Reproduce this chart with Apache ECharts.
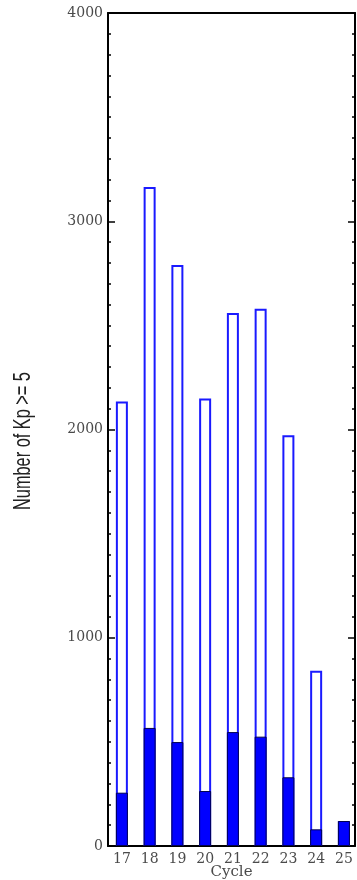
<!DOCTYPE html>
<html>
<head>
<meta charset="utf-8">
<script src="https://cdn.jsdelivr.net/npm/echarts@6/dist/echarts.min.js"></script>
<style>
html,body{margin:0;padding:0;background:#fff;}
#chart{width:357px;height:880px;}
</style>
</head>
<body>
<div id="chart"></div>
<script>
const cycles = [17, 18, 19, 20, 21, 22, 23, 24, 25];
const totalCounts = [2135, 3165, 2790, 2149, 2560, 2580, 1972, 841, 120];
const strongCounts = [256, 567, 499, 264, 547, 525, 330, 80, 120];
const yTicks = [0, 1000, 2000, 3000, 4000];
const yTitle = 'Number of Kp >= 5';
const xTitle = 'Cycle';

const chart = echarts.init(document.getElementById('chart'), null, {renderer: 'canvas'});
const labelFont = {color: '#4a4a4a', fontFamily: 'DejaVu Serif', fontSize: 14};

const option = {
  animation: false,
  backgroundColor: '#ffffff',
  grid: {left: 108, right: 2, top: 13, bottom: 34, containLabel: false, outerBoundsMode: 'none'},
  xAxis: [{
    type: 'value',
    min: 16.5,
    max: 25.4,
    interval: 0.5,
    splitLine: {show: false},
    axisTick: {show: false},
    axisLine: {show: true, onZero: false, lineStyle: {color: '#000', width: 2}},
    axisLabel: Object.assign({
      margin: 6,
      showMaxLabel: false,
      showMinLabel: false,
      formatter: v => cycles.includes(v) ? String(v) : ''
    }, labelFont),
    name: xTitle,
    nameLocation: 'middle',
    nameGap: 19,
    nameMoveOverlap: false,
    nameTextStyle: {color: '#4a4a4a', fontFamily: 'DejaVu Serif', fontSize: 15}
  }, {
    type: 'value',
    position: 'top',
    min: 16.5,
    max: 25.4,
    splitLine: {show: false},
    axisTick: {show: false},
    axisLabel: {show: false},
    axisLine: {show: true, onZero: false, lineStyle: {color: '#000', width: 2}}
  }],
  yAxis: [{
    type: 'value',
    min: yTicks[0],
    max: yTicks[yTicks.length - 1],
    interval: 1000,
    splitLine: {show: false},
    axisLine: {show: true, lineStyle: {color: '#000', width: 2}},
    axisTick: {show: true, inside: true, length: 7, lineStyle: {color: '#000', width: 1.5}},
    minorTick: {show: true, splitNumber: 10, length: 3, lineStyle: {color: '#000', width: 1.5}},
    axisLabel: Object.assign({margin: 5, formatter: v => String(v)}, labelFont)
  }, {
    type: 'value',
    position: 'right',
    min: yTicks[0],
    max: yTicks[yTicks.length - 1],
    interval: 1000,
    splitLine: {show: false},
    axisLine: {show: true, lineStyle: {color: '#000', width: 2}},
    axisTick: {show: true, inside: true, length: 7, lineStyle: {color: '#000', width: 1.5}},
    minorTick: {show: true, splitNumber: 10, length: 3, lineStyle: {color: '#000', width: 1.5}},
    axisLabel: {show: false}
  }],
  series: [{
    type: 'bar',
    name: 'All',
    data: cycles.map((c, i) => [c, totalCounts[i]]),
    barWidth: 12,
    barGap: '-100%',
    itemStyle: {color: '#ffffff', borderColor: '#1a1aff', borderWidth: 2}
  }, {
    type: 'bar',
    name: 'Strong',
    data: cycles.map((c, i) => [c, strongCounts[i]]),
    barWidth: 12,
    barGap: '-100%',
    itemStyle: {color: '#0000ff', borderColor: '#000050', borderWidth: 1}
  }],
  graphic: [{
    type: 'text',
    x: 23,
    y: 441,
    rotation: Math.PI / 2,
    scaleX: 0.68,
    style: {
      text: yTitle,
      fill: '#222',
      font: '24px "Liberation Sans", Arial, sans-serif',
      textAlign: 'center',
      textVerticalAlign: 'middle'
    }
  }]
};
chart.setOption(option);
</script>
</body>
</html>
